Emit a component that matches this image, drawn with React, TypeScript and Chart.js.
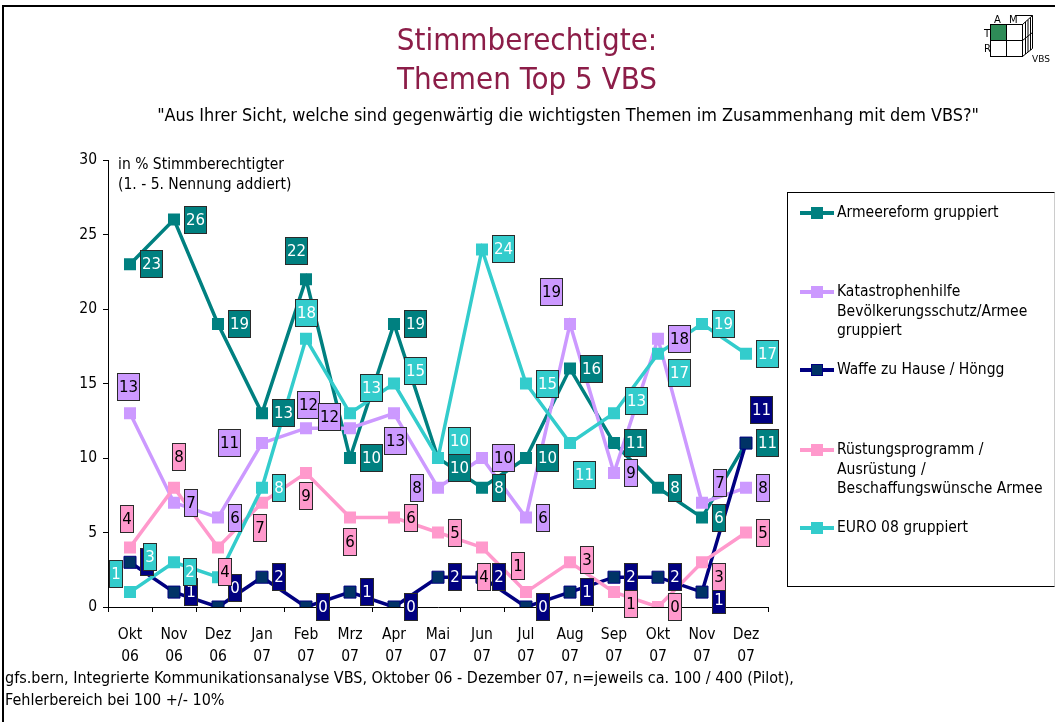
import React, { useEffect, useRef } from 'react';
import { Chart, registerables } from 'chart.js';

Chart.register(...registerables);

// ---------- data ----------
const months = ['Okt', 'Nov', 'Dez', 'Jan', 'Feb', 'Mrz', 'Apr', 'Mai', 'Jun', 'Jul', 'Aug', 'Sep', 'Okt', 'Nov', 'Dez'];
const years = ['06', '06', '06', '07', '07', '07', '07', '07', '07', '07', '07', '07', '07', '07', '07'];

const armeereform = [23, 26, 19, 13, 22, 10, 19, 10, 8, 10, 16, 11, 8, 6, 11];
const katastrophenhilfe = [13, 7, 6, 11, 12, 12, 13, 8, 10, 6, 19, 9, 18, 7, 8];
const waffe = [3, 1, 0, 2, 0, 1, 0, 2, 2, 0, 1, 2, 2, 1, 11];
const ruestung = [4, 8, 4, 7, 9, 6, 6, 5, 4, 1, 3, 1, 0, 3, 5];
const euro08 = [1, 3, 2, 8, 18, 13, 15, 10, 24, 15, 11, 13, 17, 19, 17];

const seriesNames = [
  ['Armeereform gruppiert'],
  ['Katastrophenhilfe', 'Bevölkerungsschutz/Armee', 'gruppiert'],
  ['Waffe zu Hause / Höngg'],
  ['Rüstungsprogramm /', 'Ausrüstung /', 'Beschaffungswünsche Armee'],
  ['EURO 08 gruppiert'],
];
const seriesValues = [armeereform, katastrophenhilfe, waffe, ruestung, euro08];

const yTicks = [0, 5, 10, 15, 20, 25, 30];

// ---------- styles ----------
const seriesStyles = [
  { line: '#008080', fill: '#008080', border: '#008080', labelBg: '#008080', labelColor: '#ffffff' },
  { line: '#CC99FF', fill: '#CC99FF', border: '#CC99FF', labelBg: '#CC99FF', labelColor: '#000000' },
  { line: '#000080', fill: '#003366', border: '#000080', labelBg: '#000080', labelColor: '#ffffff' },
  { line: '#FF99CC', fill: '#FF99CC', border: '#FF99CC', labelBg: '#FF99CC', labelColor: '#000000' },
  { line: '#33CCCC', fill: '#33CCCC', border: '#33CCCC', labelBg: '#33CCCC', labelColor: '#ffffff' },
];

// label box centre offsets from the point: [dx | null (default right), dy]
const labelOffsets: Record<number, Record<number, [number | null, number]>> = {
  0: { 4: [-10, -28], 7: [null, 10] },
  1: { 0: [-2, -26], 3: [-33, 0], 4: [2, -23], 5: [-21, -11], 6: [1, 28], 7: [-21, 0], 10: [-19, -32], 13: [18, -20] },
  2: { 2: [null, -19], 13: [null, 8], 14: [15, -33] },
  3: { 0: [-3, -28], 1: [5, -31], 2: [7, 25], 3: [-2, 25], 4: [0, 23], 5: [0, 24], 8: [2, 30], 9: [-8, -26], 10: [null, -2], 11: [null, 12], 13: [null, 15] },
  4: { 0: [-14, -18], 1: [-24, -5], 2: [-28, -5], 4: [0, -26], 5: [21, -25], 6: [21, -13], 7: [21, -17], 10: [14, 32], 11: [22, -12], 12: [21, 19] },
};

const TEXT_FONT = '"DejaVu Sans Condensed", "DejaVu Sans", sans-serif';
const LABEL_FONT = '"DejaVu Sans", sans-serif';
const LEGEND_TOPS = [213, 292, 370, 450, 528];

const labelPlugin = {
  id: 'boxLabels',
  afterDatasetsDraw(chart: any) {
    const ctx = chart.ctx as CanvasRenderingContext2D;
    ctx.save();
    ctx.font = `15px ${LABEL_FONT}`;
    ctx.textAlign = 'center';
    ctx.textBaseline = 'middle';
    for (let di = 0; di < chart.data.datasets.length; di++) {
      const meta = chart.getDatasetMeta(di);
      const st = seriesStyles[di];
      meta.data.forEach((pt: any, i: number) => {
        const v = chart.data.datasets[di].data[i];
        const text = String(v);
        const w = Math.round(ctx.measureText(text).width + 4);
        const h = 28;
        const ov = labelOffsets[di] && labelOffsets[di][i];
        const dx = ov && ov[0] !== null ? (ov[0] as number) : 10 + w / 2;
        const dy = ov ? ov[1] : 0;
        const cx = pt.x + dx;
        const cy = pt.y + dy;
        const x0 = Math.round(cx - w / 2);
        const y0 = Math.round(cy - h / 2);
        ctx.fillStyle = st.labelBg;
        ctx.fillRect(x0, y0, w, h);
        ctx.strokeStyle = '#2a2a2a';
        ctx.lineWidth = 1;
        ctx.strokeRect(x0 + 0.5, y0 + 0.5, w - 1, h - 1);
        ctx.fillStyle = st.labelColor;
        ctx.fillText(text, x0 + w / 2, y0 + h / 2 + 1);
      });
    }
    ctx.restore();
  },
};

function Logo() {
  const f = 'DejaVu Sans, sans-serif';
  return (
    <svg width="95" height="62" style={{ position: 'absolute', left: 960, top: 5 }} viewBox="0 0 95 62">
      <g fill="none" stroke="#000" strokeWidth="1">
        <rect x="30.5" y="19.5" width="16" height="16" fill="#2E8B57" />
        <rect x="46.5" y="19.5" width="16" height="16" />
        <rect x="30.5" y="35.5" width="16" height="16" />
        <rect x="46.5" y="35.5" width="16" height="16" />
        <polyline points="62.5,19.5 72.5,10.5 72.5,43.5 62.5,51.5" />
        <line x1="65.5" y1="17" x2="65.5" y2="49" />
        <line x1="68" y1="15" x2="68" y2="47" />
        <line x1="70.5" y1="12.5" x2="70.5" y2="45" />
        <line x1="62.5" y1="35.5" x2="72.5" y2="27.5" />
        <line x1="56" y1="10.5" x2="72.5" y2="10.5" />
      </g>
      <text x="34" y="18" fontSize="10" fontFamily={f}>A</text>
      <text x="49" y="18" fontSize="10" fontFamily={f}>M</text>
      <text x="24" y="32" fontSize="10" fontFamily={f}>T</text>
      <text x="24" y="47" fontSize="10" fontFamily={f}>R</text>
      <text x="72" y="57" fontSize="9" fontFamily={f}>VBS</text>
    </svg>
  );
}

export default function App() {
  const canvasRef = useRef<HTMLCanvasElement | null>(null);

  useEffect(() => {
    if (!canvasRef.current) return;
    const labels = months.map((m, i) => [m, years[i]]);
    const order = [5, 4, 3, 2, 1];
    const chart = new Chart(canvasRef.current, {
      type: 'line',
      data: {
        labels,
        datasets: seriesValues.map((vals, i) => ({
          label: seriesNames[i].join(' '),
          data: vals,
          borderColor: seriesStyles[i].line,
          backgroundColor: seriesStyles[i].fill,
          borderWidth: 3.5,
          pointStyle: 'rect',
          pointRadius: 8.5,
          pointHoverRadius: 8.5,
          pointBackgroundColor: seriesStyles[i].fill,
          pointBorderColor: seriesStyles[i].border,
          pointBorderWidth: i === 2 ? 1 : 0,
          tension: 0,
          fill: false,
          order: order[i],
        })),
      },
      options: {
        animation: false,
        responsive: false,
        maintainAspectRatio: false,
        layout: { padding: { left: 68, right: 287, top: 160, bottom: 55 } },
        plugins: {
          legend: { display: false },
          title: { display: false },
          tooltip: { enabled: false },
        },
        scales: {
          x: {
            type: 'category',
            offset: true,
            afterFit: (s: any) => { s.height = 60; },
            grid: { display: true, drawOnChartArea: false, drawTicks: true, tickLength: 5, offset: true, color: '#000' },
            border: { display: true, color: '#000', width: 1 },
            ticks: {
              color: '#000',
              padding: 12,
              maxRotation: 0,
              autoSkip: false,
              font: { family: TEXT_FONT, size: 15.5, lineHeight: 1.42 },
            },
          },
          y: {
            min: 0,
            max: 30,
            afterFit: (s: any) => { s.width = 40; },
            afterBuildTicks: (s: any) => { s.ticks = yTicks.map((v) => ({ value: v })); },
            grid: { display: true, drawOnChartArea: false, drawTicks: true, tickLength: 5, color: '#000' },
            border: { display: true, color: '#000', width: 1 },
            ticks: {
              color: '#000',
              padding: 6,
              font: { family: TEXT_FONT, size: 15.5 },
            },
          },
        },
      },
      plugins: [labelPlugin],
    });
    return () => chart.destroy();
  }, []);

  return (
    <div style={{ position: 'fixed', left: 0, top: 0, width: 1055, height: 722, background: '#fff', overflow: 'hidden', fontFamily: TEXT_FONT }}>
      <div style={{ position: 'absolute', left: 2, top: 5, width: 1100, height: 800, borderLeft: '2px solid #000', borderTop: '2px solid #000' }} />
      <canvas ref={canvasRef} width={1055} height={722} style={{ position: 'absolute', left: 0, top: 0 }} />
      <div style={{ position: 'absolute', left: 0, width: 1055, top: 20, textAlign: 'center', color: '#8C1D48', fontSize: 31, lineHeight: '38px' }}>
        <div style={{ position: 'absolute', left: 327, width: 400 }}>Stimmberechtigte:</div>
        <div style={{ position: 'absolute', left: 327, width: 400, top: 39 }}>Themen Top 5 VBS</div>
      </div>
      <div style={{ position: 'absolute', left: 68, width: 1000, top: 104, textAlign: 'center', fontSize: 17.9, whiteSpace: 'nowrap', color: '#000', lineHeight: '22px' }}>
        "Aus Ihrer Sicht, welche sind gegenwärtig die wichtigsten Themen im Zusammenhang mit dem VBS?"
      </div>
      <div style={{ position: 'absolute', left: 118, top: 154, fontSize: 15.5, lineHeight: '20px', color: '#000' }}>
        in % Stimmberechtigter<br />(1. - 5. Nennung addiert)
      </div>
      <div style={{ position: 'absolute', left: 787, top: 192, width: 266, height: 393, borderTop: '1px solid #000', borderLeft: '1px solid #000', borderBottom: '1px solid #000', borderRight: '1px solid #ccc' }} />
      {seriesNames.map((lines, i) => (
        <div key={i} style={{ position: 'absolute', left: 800, top: LEGEND_TOPS[i] - 10 }}>
          <div style={{ position: 'absolute', left: 0, top: 8, width: 34, height: 4, background: seriesStyles[i].line }} />
          <div style={{ position: 'absolute', left: 11, top: 4, width: 12, height: 12, background: seriesStyles[i].fill, boxSizing: 'border-box', border: i === 2 ? '1px solid #000080' : 'none' }} />
          <div style={{ position: 'absolute', left: 37, top: 0, fontSize: 15.5, lineHeight: '19.5px', whiteSpace: 'nowrap', color: '#000' }}>
            {lines.map((l, j) => (<div key={j}>{l}</div>))}
          </div>
        </div>
      ))}
      <div style={{ position: 'absolute', left: 5, top: 667, fontSize: 16, lineHeight: '22px', color: '#000', whiteSpace: 'nowrap' }}>
        gfs.bern, Integrierte Kommunikationsanalyse VBS, Oktober 06 - Dezember 07, n=jeweils ca. 100 / 400 (Pilot),<br />Fehlerbereich bei 100 +/- 10%
      </div>
      <Logo />
    </div>
  );
}
